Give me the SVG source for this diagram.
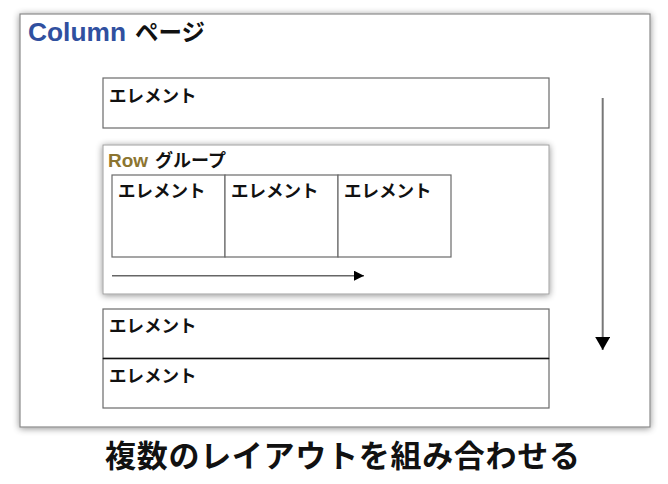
<svg xmlns="http://www.w3.org/2000/svg" width="668" height="484" viewBox="0 0 668 484">
<style>
.lbl{font-family:"Noto Sans CJK JP","Liberation Sans",sans-serif;font-weight:bold;fill:#111;}
.lat{font-family:"Liberation Sans",sans-serif;font-weight:bold;}
.el{font-size:17.5px;}
.box{fill:#fff;stroke:#6a6a6a;stroke-width:1.2;}
</style>
<defs>
<filter id="sh" x="-10%" y="-10%" width="120%" height="120%">
<feGaussianBlur in="SourceAlpha" stdDeviation="3.5"/>
<feOffset dx="0" dy="1" result="b"/>
<feComponentTransfer><feFuncA type="linear" slope="0.45"/></feComponentTransfer>
<feMerge><feMergeNode/><feMergeNode in="SourceGraphic"/></feMerge>
</filter>
<marker id="ah" viewBox="0 0 10 10" refX="10" refY="5" markerWidth="10" markerHeight="10" markerUnits="userSpaceOnUse" orient="auto">
<path d="M0,0 L10,5 L0,10 Z" fill="#000"/>
</marker>
<marker id="ahv" viewBox="0 0 13 15" refX="13" refY="7.5" markerWidth="13" markerHeight="15" markerUnits="userSpaceOnUse" orient="auto">
<path d="M0,0 L13,7.5 L0,15 Z" fill="#000"/>
</marker>
</defs>
<rect width="668" height="484" fill="#fff"/>
<g id="page">
<rect x="20" y="14" width="630" height="413" fill="#fff" stroke="#8a8a8a" stroke-width="1.2" filter="url(#sh)"/>
<text class="lat" x="28" y="41" font-size="26" fill="#30509f" textLength="98" lengthAdjust="spacingAndGlyphs">Column</text>
<text class="lbl" x="135" y="41" font-size="23.5">ページ</text>
</g>
<g id="el1">
<rect class="box" x="103" y="78" width="446" height="50"/>
<text class="lbl el" x="109" y="102">エレメント</text>
</g>
<g id="row">
<rect x="103" y="145" width="446" height="149" fill="#fff" stroke="#a0a0a0" stroke-width="1" filter="url(#sh)"/>
<text class="lat" x="108" y="167" font-size="19" fill="#8c7530">Row</text>
<text class="lbl" x="155" y="167" font-size="18">グループ</text>
</g>
<g id="rc1">
<rect class="box" x="112" y="175" width="113" height="82"/>
<text class="lbl el" x="118" y="197">エレメント</text>
</g>
<g id="rc2">
<rect class="box" x="225" y="175" width="113" height="82"/>
<text class="lbl el" x="231" y="197">エレメント</text>
</g>
<g id="rc3">
<rect class="box" x="338" y="175" width="113" height="82"/>
<text class="lbl el" x="344" y="197">エレメント</text>
</g>
<g id="el2">
<rect class="box" x="103" y="309" width="446" height="49.5"/>
<text class="lbl el" x="109" y="332">エレメント</text>
</g>
<g id="el3">
<rect class="box" x="103" y="358.5" width="446" height="49.5"/>
<text class="lbl el" x="109" y="382">エレメント</text>
</g>
<line x1="103" y1="358.5" x2="549" y2="358.5" stroke="#111" stroke-width="1.3"/>
<g id="connectors">
<line x1="112" y1="275.7" x2="364" y2="275.7" stroke="#666" stroke-width="1.5" marker-end="url(#ah)"/>
<line x1="602.7" y1="98" x2="602.7" y2="350" stroke="#777" stroke-width="2" marker-end="url(#ahv)"/>
</g>
<text class="lbl" x="105" y="467" font-size="31" textLength="475" lengthAdjust="spacing" fill="#1a1a1a">複数のレイアウトを組み合わせる</text>
</svg>
